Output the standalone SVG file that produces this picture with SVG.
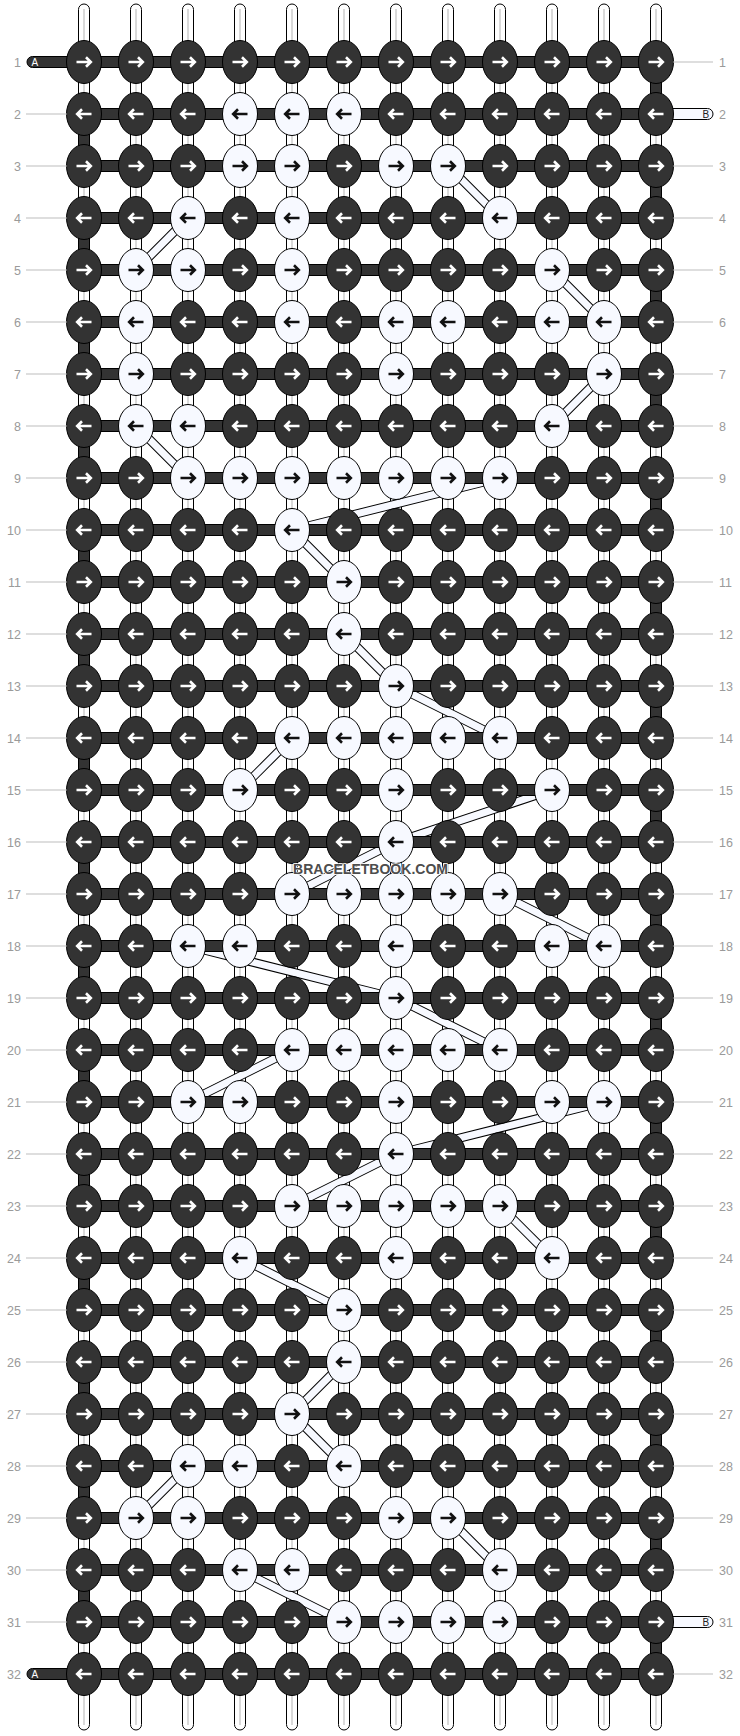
<svg xmlns="http://www.w3.org/2000/svg" xmlns:xlink="http://www.w3.org/1999/xlink" width="740" height="1736" viewBox="0 0 740 1736">
<style>
.th{fill:#fff;stroke:#000;stroke-width:1}
.tg{stroke:#cdcdcd;stroke-width:1.5}
.dk{fill:#333;stroke:#000;stroke-width:1}
.kd{fill:#333;stroke:#000;stroke-width:1}
.kw{fill:#f7f9ff;stroke:#000;stroke-width:1}
.aw{fill:none;stroke:#fff;stroke-width:2.6}
.ab{fill:none;stroke:#111;stroke-width:2.6}
.sb{stroke:#000;stroke-width:9;fill:none}
.sw{stroke:#f7f9ff;stroke-width:7;fill:none}
.lb{font-family:"Liberation Sans",Arial,sans-serif;font-size:12.5px;fill:#9a9a9a}
.ln{stroke:#bdbdbd;stroke-width:1}
.tl{font-family:"Liberation Sans",Arial,sans-serif;font-size:10px}
.wm{font-family:"Liberation Sans",Arial,sans-serif;font-size:15px;font-weight:bold;fill:#4d4d4d;stroke:#fff;stroke-width:1.5;paint-order:stroke}
</style>
<defs>
<g id="dR"><ellipse rx="17.5" ry="21.5" class="kd"/><path class="aw" d="M-7.5,0H6M2,-4.7L6.8,0L2,4.7"/></g>
<g id="dL"><ellipse rx="17.5" ry="21.5" class="kd"/><path class="aw" d="M7.5,0H-6M-2,-4.7L-6.8,0L-2,4.7"/></g>
<g id="wR"><ellipse rx="17.5" ry="21.5" class="kw"/><path class="ab" d="M-7.5,0H6M2,-4.7L6.8,0L2,4.7"/></g>
<g id="wL"><ellipse rx="17.5" ry="21.5" class="kw"/><path class="ab" d="M7.5,0H-6M-2,-4.7L-6.8,0L-2,4.7"/></g>
</defs>
<rect width="740" height="1736" fill="#fff"/>

<g id="threads">
<rect class="th" x="78.5" y="4" width="11" height="1726" rx="5.5"/><line class="tg" x1="84" y1="9" x2="84" y2="1725"/>
<rect class="th" x="130.5" y="4" width="11" height="1726" rx="5.5"/><line class="tg" x1="136" y1="9" x2="136" y2="1725"/>
<rect class="th" x="182.5" y="4" width="11" height="1726" rx="5.5"/><line class="tg" x1="188" y1="9" x2="188" y2="1725"/>
<rect class="th" x="234.5" y="4" width="11" height="1726" rx="5.5"/><line class="tg" x1="240" y1="9" x2="240" y2="1725"/>
<rect class="th" x="286.5" y="4" width="11" height="1726" rx="5.5"/><line class="tg" x1="292" y1="9" x2="292" y2="1725"/>
<rect class="th" x="338.5" y="4" width="11" height="1726" rx="5.5"/><line class="tg" x1="344" y1="9" x2="344" y2="1725"/>
<rect class="th" x="390.5" y="4" width="11" height="1726" rx="5.5"/><line class="tg" x1="396" y1="9" x2="396" y2="1725"/>
<rect class="th" x="442.5" y="4" width="11" height="1726" rx="5.5"/><line class="tg" x1="448" y1="9" x2="448" y2="1725"/>
<rect class="th" x="494.5" y="4" width="11" height="1726" rx="5.5"/><line class="tg" x1="500" y1="9" x2="500" y2="1725"/>
<rect class="th" x="546.5" y="4" width="11" height="1726" rx="5.5"/><line class="tg" x1="552" y1="9" x2="552" y2="1725"/>
<rect class="th" x="598.5" y="4" width="11" height="1726" rx="5.5"/><line class="tg" x1="604" y1="9" x2="604" y2="1725"/>
<rect class="th" x="650.5" y="4" width="11" height="1726" rx="5.5"/><line class="tg" x1="656" y1="9" x2="656" y2="1725"/>
</g>

<g id="connectors">
<g><line class="sb" x1="448" y1="166" x2="500" y2="218"/><line class="sw" x1="448" y1="166" x2="500" y2="218"/></g>
<g><line class="sb" x1="188" y1="218" x2="136" y2="270"/><line class="sw" x1="188" y1="218" x2="136" y2="270"/></g>
<g><line class="sb" x1="552" y1="270" x2="604" y2="322"/><line class="sw" x1="552" y1="270" x2="604" y2="322"/></g>
<g><line class="sb" x1="604" y1="374" x2="552" y2="426"/><line class="sw" x1="604" y1="374" x2="552" y2="426"/></g>
<g><line class="sb" x1="136" y1="426" x2="188" y2="478"/><line class="sw" x1="136" y1="426" x2="188" y2="478"/></g>
<g><line class="sb" x1="500" y1="478" x2="292" y2="530"/><line class="sw" x1="500" y1="478" x2="292" y2="530"/></g>
<g><line class="sb" x1="292" y1="530" x2="344" y2="582"/><line class="sw" x1="292" y1="530" x2="344" y2="582"/></g>
<g><line class="sb" x1="344" y1="634" x2="396" y2="686"/><line class="sw" x1="344" y1="634" x2="396" y2="686"/></g>
<g><line class="sb" x1="396" y1="686" x2="500" y2="738"/><line class="sw" x1="396" y1="686" x2="500" y2="738"/></g>
<g><line class="sb" x1="292" y1="738" x2="240" y2="790"/><line class="sw" x1="292" y1="738" x2="240" y2="790"/></g>
<g><line class="sb" x1="552" y1="790" x2="396" y2="842"/><line class="sw" x1="552" y1="790" x2="396" y2="842"/></g>
<g><line class="sb" x1="396" y1="842" x2="292" y2="894"/><line class="sw" x1="396" y1="842" x2="292" y2="894"/></g>
<g><line class="sb" x1="500" y1="894" x2="604" y2="946"/><line class="sw" x1="500" y1="894" x2="604" y2="946"/></g>
<g><line class="sb" x1="188" y1="946" x2="396" y2="998"/><line class="sw" x1="188" y1="946" x2="396" y2="998"/></g>
<g><line class="sb" x1="396" y1="998" x2="500" y2="1050"/><line class="sw" x1="396" y1="998" x2="500" y2="1050"/></g>
<g><line class="sb" x1="292" y1="1050" x2="188" y2="1102"/><line class="sw" x1="292" y1="1050" x2="188" y2="1102"/></g>
<g><line class="sb" x1="604" y1="1102" x2="396" y2="1154"/><line class="sw" x1="604" y1="1102" x2="396" y2="1154"/></g>
<g><line class="sb" x1="396" y1="1154" x2="292" y2="1206"/><line class="sw" x1="396" y1="1154" x2="292" y2="1206"/></g>
<g><line class="sb" x1="500" y1="1206" x2="552" y2="1258"/><line class="sw" x1="500" y1="1206" x2="552" y2="1258"/></g>
<g><line class="sb" x1="240" y1="1258" x2="344" y2="1310"/><line class="sw" x1="240" y1="1258" x2="344" y2="1310"/></g>
<g><line class="sb" x1="344" y1="1362" x2="292" y2="1414"/><line class="sw" x1="344" y1="1362" x2="292" y2="1414"/></g>
<g><line class="sb" x1="292" y1="1414" x2="344" y2="1466"/><line class="sw" x1="292" y1="1414" x2="344" y2="1466"/></g>
<g><line class="sb" x1="188" y1="1466" x2="136" y2="1518"/><line class="sw" x1="188" y1="1466" x2="136" y2="1518"/></g>
<g><line class="sb" x1="448" y1="1518" x2="500" y2="1570"/><line class="sw" x1="448" y1="1518" x2="500" y2="1570"/></g>
<g><line class="sb" x1="240" y1="1570" x2="344" y2="1622"/><line class="sw" x1="240" y1="1570" x2="344" y2="1622"/></g>
</g>

<g id="rows">
<rect class="dk" x="84" y="56.5" width="572" height="11"/>
<rect class="dk" x="84" y="108.5" width="572" height="11"/>
<rect class="dk" x="84" y="160.5" width="572" height="11"/>
<rect class="dk" x="84" y="212.5" width="572" height="11"/>
<rect class="dk" x="84" y="264.5" width="572" height="11"/>
<rect class="dk" x="84" y="316.5" width="572" height="11"/>
<rect class="dk" x="84" y="368.5" width="572" height="11"/>
<rect class="dk" x="84" y="420.5" width="572" height="11"/>
<rect class="dk" x="84" y="472.5" width="572" height="11"/>
<rect class="dk" x="84" y="524.5" width="572" height="11"/>
<rect class="dk" x="84" y="576.5" width="572" height="11"/>
<rect class="dk" x="84" y="628.5" width="572" height="11"/>
<rect class="dk" x="84" y="680.5" width="572" height="11"/>
<rect class="dk" x="84" y="732.5" width="572" height="11"/>
<rect class="dk" x="84" y="784.5" width="572" height="11"/>
<rect class="dk" x="84" y="836.5" width="572" height="11"/>
<rect class="dk" x="84" y="888.5" width="572" height="11"/>
<rect class="dk" x="84" y="940.5" width="572" height="11"/>
<rect class="dk" x="84" y="992.5" width="572" height="11"/>
<rect class="dk" x="84" y="1044.5" width="572" height="11"/>
<rect class="dk" x="84" y="1096.5" width="572" height="11"/>
<rect class="dk" x="84" y="1148.5" width="572" height="11"/>
<rect class="dk" x="84" y="1200.5" width="572" height="11"/>
<rect class="dk" x="84" y="1252.5" width="572" height="11"/>
<rect class="dk" x="84" y="1304.5" width="572" height="11"/>
<rect class="dk" x="84" y="1356.5" width="572" height="11"/>
<rect class="dk" x="84" y="1408.5" width="572" height="11"/>
<rect class="dk" x="84" y="1460.5" width="572" height="11"/>
<rect class="dk" x="84" y="1512.5" width="572" height="11"/>
<rect class="dk" x="84" y="1564.5" width="572" height="11"/>
<rect class="dk" x="84" y="1616.5" width="572" height="11"/>
<rect class="dk" x="84" y="1668.5" width="572" height="11"/>
</g>

<g id="turns">
<rect class="dk" x="650.5" y="72" width="11" height="32"/>
<rect class="dk" x="650.5" y="176" width="11" height="32"/>
<rect class="dk" x="650.5" y="280" width="11" height="32"/>
<rect class="dk" x="650.5" y="384" width="11" height="32"/>
<rect class="dk" x="650.5" y="488" width="11" height="32"/>
<rect class="dk" x="650.5" y="592" width="11" height="32"/>
<rect class="dk" x="650.5" y="696" width="11" height="32"/>
<rect class="dk" x="650.5" y="800" width="11" height="32"/>
<rect class="dk" x="650.5" y="904" width="11" height="32"/>
<rect class="dk" x="650.5" y="1008" width="11" height="32"/>
<rect class="dk" x="650.5" y="1112" width="11" height="32"/>
<rect class="dk" x="650.5" y="1216" width="11" height="32"/>
<rect class="dk" x="650.5" y="1320" width="11" height="32"/>
<rect class="dk" x="650.5" y="1424" width="11" height="32"/>
<rect class="dk" x="650.5" y="1528" width="11" height="32"/>
<rect class="dk" x="650.5" y="1632" width="11" height="32"/>
<rect class="dk" x="78.5" y="124" width="11" height="32"/>
<rect class="dk" x="78.5" y="228" width="11" height="32"/>
<rect class="dk" x="78.5" y="332" width="11" height="32"/>
<rect class="dk" x="78.5" y="436" width="11" height="32"/>
<rect class="dk" x="78.5" y="540" width="11" height="32"/>
<rect class="dk" x="78.5" y="644" width="11" height="32"/>
<rect class="dk" x="78.5" y="748" width="11" height="32"/>
<rect class="dk" x="78.5" y="852" width="11" height="32"/>
<rect class="dk" x="78.5" y="956" width="11" height="32"/>
<rect class="dk" x="78.5" y="1060" width="11" height="32"/>
<rect class="dk" x="78.5" y="1164" width="11" height="32"/>
<rect class="dk" x="78.5" y="1268" width="11" height="32"/>
<rect class="dk" x="78.5" y="1372" width="11" height="32"/>
<rect class="dk" x="78.5" y="1476" width="11" height="32"/>
<rect class="dk" x="78.5" y="1580" width="11" height="32"/>
</g>

<g id="ends">
<g id="endA1"><rect class="dk" x="27" y="56.5" width="70" height="11" rx="5.5"/><text class="tl" x="31.5" y="65.5" fill="#fff">A</text></g>
<g id="endA32"><rect class="dk" x="27" y="1668.5" width="70" height="11" rx="5.5"/><text class="tl" x="31.5" y="1677.5" fill="#fff">A</text></g>
<g id="endB2"><rect class="kw" x="640" y="108.5" width="73" height="11" rx="5.5"/><text class="tl" x="702.5" y="117.5" fill="#222">B</text></g>
<g id="endB31"><rect class="kw" x="640" y="1616.5" width="73" height="11" rx="5.5"/><text class="tl" x="702.5" y="1625.5" fill="#222">B</text></g>
</g>

<g id="knots">
<g id="row1" transform="translate(0,62)"><use id="k1-1" href="#dR" x="84"/><use id="k1-2" href="#dR" x="136"/><use id="k1-3" href="#dR" x="188"/><use id="k1-4" href="#dR" x="240"/><use id="k1-5" href="#dR" x="292"/><use id="k1-6" href="#dR" x="344"/><use id="k1-7" href="#dR" x="396"/><use id="k1-8" href="#dR" x="448"/><use id="k1-9" href="#dR" x="500"/><use id="k1-10" href="#dR" x="552"/><use id="k1-11" href="#dR" x="604"/><use id="k1-12" href="#dR" x="656"/></g>
<g id="row2" transform="translate(0,114)"><use id="k2-1" href="#dL" x="84"/><use id="k2-2" href="#dL" x="136"/><use id="k2-3" href="#dL" x="188"/><use id="k2-4" href="#wL" x="240"/><use id="k2-5" href="#wL" x="292"/><use id="k2-6" href="#wL" x="344"/><use id="k2-7" href="#dL" x="396"/><use id="k2-8" href="#dL" x="448"/><use id="k2-9" href="#dL" x="500"/><use id="k2-10" href="#dL" x="552"/><use id="k2-11" href="#dL" x="604"/><use id="k2-12" href="#dL" x="656"/></g>
<g id="row3" transform="translate(0,166)"><use id="k3-1" href="#dR" x="84"/><use id="k3-2" href="#dR" x="136"/><use id="k3-3" href="#dR" x="188"/><use id="k3-4" href="#wR" x="240"/><use id="k3-5" href="#wR" x="292"/><use id="k3-6" href="#dR" x="344"/><use id="k3-7" href="#wR" x="396"/><use id="k3-8" href="#wR" x="448"/><use id="k3-9" href="#dR" x="500"/><use id="k3-10" href="#dR" x="552"/><use id="k3-11" href="#dR" x="604"/><use id="k3-12" href="#dR" x="656"/></g>
<g id="row4" transform="translate(0,218)"><use id="k4-1" href="#dL" x="84"/><use id="k4-2" href="#dL" x="136"/><use id="k4-3" href="#wL" x="188"/><use id="k4-4" href="#dL" x="240"/><use id="k4-5" href="#wL" x="292"/><use id="k4-6" href="#dL" x="344"/><use id="k4-7" href="#dL" x="396"/><use id="k4-8" href="#dL" x="448"/><use id="k4-9" href="#wL" x="500"/><use id="k4-10" href="#dL" x="552"/><use id="k4-11" href="#dL" x="604"/><use id="k4-12" href="#dL" x="656"/></g>
<g id="row5" transform="translate(0,270)"><use id="k5-1" href="#dR" x="84"/><use id="k5-2" href="#wR" x="136"/><use id="k5-3" href="#wR" x="188"/><use id="k5-4" href="#dR" x="240"/><use id="k5-5" href="#wR" x="292"/><use id="k5-6" href="#dR" x="344"/><use id="k5-7" href="#dR" x="396"/><use id="k5-8" href="#dR" x="448"/><use id="k5-9" href="#dR" x="500"/><use id="k5-10" href="#wR" x="552"/><use id="k5-11" href="#dR" x="604"/><use id="k5-12" href="#dR" x="656"/></g>
<g id="row6" transform="translate(0,322)"><use id="k6-1" href="#dL" x="84"/><use id="k6-2" href="#wL" x="136"/><use id="k6-3" href="#dL" x="188"/><use id="k6-4" href="#dL" x="240"/><use id="k6-5" href="#wL" x="292"/><use id="k6-6" href="#dL" x="344"/><use id="k6-7" href="#wL" x="396"/><use id="k6-8" href="#wL" x="448"/><use id="k6-9" href="#dL" x="500"/><use id="k6-10" href="#wL" x="552"/><use id="k6-11" href="#wL" x="604"/><use id="k6-12" href="#dL" x="656"/></g>
<g id="row7" transform="translate(0,374)"><use id="k7-1" href="#dR" x="84"/><use id="k7-2" href="#wR" x="136"/><use id="k7-3" href="#dR" x="188"/><use id="k7-4" href="#dR" x="240"/><use id="k7-5" href="#dR" x="292"/><use id="k7-6" href="#dR" x="344"/><use id="k7-7" href="#wR" x="396"/><use id="k7-8" href="#dR" x="448"/><use id="k7-9" href="#dR" x="500"/><use id="k7-10" href="#dR" x="552"/><use id="k7-11" href="#wR" x="604"/><use id="k7-12" href="#dR" x="656"/></g>
<g id="row8" transform="translate(0,426)"><use id="k8-1" href="#dL" x="84"/><use id="k8-2" href="#wL" x="136"/><use id="k8-3" href="#wL" x="188"/><use id="k8-4" href="#dL" x="240"/><use id="k8-5" href="#dL" x="292"/><use id="k8-6" href="#dL" x="344"/><use id="k8-7" href="#dL" x="396"/><use id="k8-8" href="#dL" x="448"/><use id="k8-9" href="#dL" x="500"/><use id="k8-10" href="#wL" x="552"/><use id="k8-11" href="#dL" x="604"/><use id="k8-12" href="#dL" x="656"/></g>
<g id="row9" transform="translate(0,478)"><use id="k9-1" href="#dR" x="84"/><use id="k9-2" href="#dR" x="136"/><use id="k9-3" href="#wR" x="188"/><use id="k9-4" href="#wR" x="240"/><use id="k9-5" href="#wR" x="292"/><use id="k9-6" href="#wR" x="344"/><use id="k9-7" href="#wR" x="396"/><use id="k9-8" href="#wR" x="448"/><use id="k9-9" href="#wR" x="500"/><use id="k9-10" href="#dR" x="552"/><use id="k9-11" href="#dR" x="604"/><use id="k9-12" href="#dR" x="656"/></g>
<g id="row10" transform="translate(0,530)"><use id="k10-1" href="#dL" x="84"/><use id="k10-2" href="#dL" x="136"/><use id="k10-3" href="#dL" x="188"/><use id="k10-4" href="#dL" x="240"/><use id="k10-5" href="#wL" x="292"/><use id="k10-6" href="#dL" x="344"/><use id="k10-7" href="#dL" x="396"/><use id="k10-8" href="#dL" x="448"/><use id="k10-9" href="#dL" x="500"/><use id="k10-10" href="#dL" x="552"/><use id="k10-11" href="#dL" x="604"/><use id="k10-12" href="#dL" x="656"/></g>
<g id="row11" transform="translate(0,582)"><use id="k11-1" href="#dR" x="84"/><use id="k11-2" href="#dR" x="136"/><use id="k11-3" href="#dR" x="188"/><use id="k11-4" href="#dR" x="240"/><use id="k11-5" href="#dR" x="292"/><use id="k11-6" href="#wR" x="344"/><use id="k11-7" href="#dR" x="396"/><use id="k11-8" href="#dR" x="448"/><use id="k11-9" href="#dR" x="500"/><use id="k11-10" href="#dR" x="552"/><use id="k11-11" href="#dR" x="604"/><use id="k11-12" href="#dR" x="656"/></g>
<g id="row12" transform="translate(0,634)"><use id="k12-1" href="#dL" x="84"/><use id="k12-2" href="#dL" x="136"/><use id="k12-3" href="#dL" x="188"/><use id="k12-4" href="#dL" x="240"/><use id="k12-5" href="#dL" x="292"/><use id="k12-6" href="#wL" x="344"/><use id="k12-7" href="#dL" x="396"/><use id="k12-8" href="#dL" x="448"/><use id="k12-9" href="#dL" x="500"/><use id="k12-10" href="#dL" x="552"/><use id="k12-11" href="#dL" x="604"/><use id="k12-12" href="#dL" x="656"/></g>
<g id="row13" transform="translate(0,686)"><use id="k13-1" href="#dR" x="84"/><use id="k13-2" href="#dR" x="136"/><use id="k13-3" href="#dR" x="188"/><use id="k13-4" href="#dR" x="240"/><use id="k13-5" href="#dR" x="292"/><use id="k13-6" href="#dR" x="344"/><use id="k13-7" href="#wR" x="396"/><use id="k13-8" href="#dR" x="448"/><use id="k13-9" href="#dR" x="500"/><use id="k13-10" href="#dR" x="552"/><use id="k13-11" href="#dR" x="604"/><use id="k13-12" href="#dR" x="656"/></g>
<g id="row14" transform="translate(0,738)"><use id="k14-1" href="#dL" x="84"/><use id="k14-2" href="#dL" x="136"/><use id="k14-3" href="#dL" x="188"/><use id="k14-4" href="#dL" x="240"/><use id="k14-5" href="#wL" x="292"/><use id="k14-6" href="#wL" x="344"/><use id="k14-7" href="#wL" x="396"/><use id="k14-8" href="#wL" x="448"/><use id="k14-9" href="#wL" x="500"/><use id="k14-10" href="#dL" x="552"/><use id="k14-11" href="#dL" x="604"/><use id="k14-12" href="#dL" x="656"/></g>
<g id="row15" transform="translate(0,790)"><use id="k15-1" href="#dR" x="84"/><use id="k15-2" href="#dR" x="136"/><use id="k15-3" href="#dR" x="188"/><use id="k15-4" href="#wR" x="240"/><use id="k15-5" href="#dR" x="292"/><use id="k15-6" href="#dR" x="344"/><use id="k15-7" href="#wR" x="396"/><use id="k15-8" href="#dR" x="448"/><use id="k15-9" href="#dR" x="500"/><use id="k15-10" href="#wR" x="552"/><use id="k15-11" href="#dR" x="604"/><use id="k15-12" href="#dR" x="656"/></g>
<g id="row16" transform="translate(0,842)"><use id="k16-1" href="#dL" x="84"/><use id="k16-2" href="#dL" x="136"/><use id="k16-3" href="#dL" x="188"/><use id="k16-4" href="#dL" x="240"/><use id="k16-5" href="#dL" x="292"/><use id="k16-6" href="#dL" x="344"/><use id="k16-7" href="#wL" x="396"/><use id="k16-8" href="#dL" x="448"/><use id="k16-9" href="#dL" x="500"/><use id="k16-10" href="#dL" x="552"/><use id="k16-11" href="#dL" x="604"/><use id="k16-12" href="#dL" x="656"/></g>
<g id="row17" transform="translate(0,894)"><use id="k17-1" href="#dR" x="84"/><use id="k17-2" href="#dR" x="136"/><use id="k17-3" href="#dR" x="188"/><use id="k17-4" href="#dR" x="240"/><use id="k17-5" href="#wR" x="292"/><use id="k17-6" href="#wR" x="344"/><use id="k17-7" href="#wR" x="396"/><use id="k17-8" href="#wR" x="448"/><use id="k17-9" href="#wR" x="500"/><use id="k17-10" href="#dR" x="552"/><use id="k17-11" href="#dR" x="604"/><use id="k17-12" href="#dR" x="656"/></g>
<g id="row18" transform="translate(0,946)"><use id="k18-1" href="#dL" x="84"/><use id="k18-2" href="#dL" x="136"/><use id="k18-3" href="#wL" x="188"/><use id="k18-4" href="#wL" x="240"/><use id="k18-5" href="#dL" x="292"/><use id="k18-6" href="#dL" x="344"/><use id="k18-7" href="#wL" x="396"/><use id="k18-8" href="#dL" x="448"/><use id="k18-9" href="#dL" x="500"/><use id="k18-10" href="#wL" x="552"/><use id="k18-11" href="#wL" x="604"/><use id="k18-12" href="#dL" x="656"/></g>
<g id="row19" transform="translate(0,998)"><use id="k19-1" href="#dR" x="84"/><use id="k19-2" href="#dR" x="136"/><use id="k19-3" href="#dR" x="188"/><use id="k19-4" href="#dR" x="240"/><use id="k19-5" href="#dR" x="292"/><use id="k19-6" href="#dR" x="344"/><use id="k19-7" href="#wR" x="396"/><use id="k19-8" href="#dR" x="448"/><use id="k19-9" href="#dR" x="500"/><use id="k19-10" href="#dR" x="552"/><use id="k19-11" href="#dR" x="604"/><use id="k19-12" href="#dR" x="656"/></g>
<g id="row20" transform="translate(0,1050)"><use id="k20-1" href="#dL" x="84"/><use id="k20-2" href="#dL" x="136"/><use id="k20-3" href="#dL" x="188"/><use id="k20-4" href="#dL" x="240"/><use id="k20-5" href="#wL" x="292"/><use id="k20-6" href="#wL" x="344"/><use id="k20-7" href="#wL" x="396"/><use id="k20-8" href="#wL" x="448"/><use id="k20-9" href="#wL" x="500"/><use id="k20-10" href="#dL" x="552"/><use id="k20-11" href="#dL" x="604"/><use id="k20-12" href="#dL" x="656"/></g>
<g id="row21" transform="translate(0,1102)"><use id="k21-1" href="#dR" x="84"/><use id="k21-2" href="#dR" x="136"/><use id="k21-3" href="#wR" x="188"/><use id="k21-4" href="#wR" x="240"/><use id="k21-5" href="#dR" x="292"/><use id="k21-6" href="#dR" x="344"/><use id="k21-7" href="#wR" x="396"/><use id="k21-8" href="#dR" x="448"/><use id="k21-9" href="#dR" x="500"/><use id="k21-10" href="#wR" x="552"/><use id="k21-11" href="#wR" x="604"/><use id="k21-12" href="#dR" x="656"/></g>
<g id="row22" transform="translate(0,1154)"><use id="k22-1" href="#dL" x="84"/><use id="k22-2" href="#dL" x="136"/><use id="k22-3" href="#dL" x="188"/><use id="k22-4" href="#dL" x="240"/><use id="k22-5" href="#dL" x="292"/><use id="k22-6" href="#dL" x="344"/><use id="k22-7" href="#wL" x="396"/><use id="k22-8" href="#dL" x="448"/><use id="k22-9" href="#dL" x="500"/><use id="k22-10" href="#dL" x="552"/><use id="k22-11" href="#dL" x="604"/><use id="k22-12" href="#dL" x="656"/></g>
<g id="row23" transform="translate(0,1206)"><use id="k23-1" href="#dR" x="84"/><use id="k23-2" href="#dR" x="136"/><use id="k23-3" href="#dR" x="188"/><use id="k23-4" href="#dR" x="240"/><use id="k23-5" href="#wR" x="292"/><use id="k23-6" href="#wR" x="344"/><use id="k23-7" href="#wR" x="396"/><use id="k23-8" href="#wR" x="448"/><use id="k23-9" href="#wR" x="500"/><use id="k23-10" href="#dR" x="552"/><use id="k23-11" href="#dR" x="604"/><use id="k23-12" href="#dR" x="656"/></g>
<g id="row24" transform="translate(0,1258)"><use id="k24-1" href="#dL" x="84"/><use id="k24-2" href="#dL" x="136"/><use id="k24-3" href="#dL" x="188"/><use id="k24-4" href="#wL" x="240"/><use id="k24-5" href="#dL" x="292"/><use id="k24-6" href="#dL" x="344"/><use id="k24-7" href="#wL" x="396"/><use id="k24-8" href="#dL" x="448"/><use id="k24-9" href="#dL" x="500"/><use id="k24-10" href="#wL" x="552"/><use id="k24-11" href="#dL" x="604"/><use id="k24-12" href="#dL" x="656"/></g>
<g id="row25" transform="translate(0,1310)"><use id="k25-1" href="#dR" x="84"/><use id="k25-2" href="#dR" x="136"/><use id="k25-3" href="#dR" x="188"/><use id="k25-4" href="#dR" x="240"/><use id="k25-5" href="#dR" x="292"/><use id="k25-6" href="#wR" x="344"/><use id="k25-7" href="#dR" x="396"/><use id="k25-8" href="#dR" x="448"/><use id="k25-9" href="#dR" x="500"/><use id="k25-10" href="#dR" x="552"/><use id="k25-11" href="#dR" x="604"/><use id="k25-12" href="#dR" x="656"/></g>
<g id="row26" transform="translate(0,1362)"><use id="k26-1" href="#dL" x="84"/><use id="k26-2" href="#dL" x="136"/><use id="k26-3" href="#dL" x="188"/><use id="k26-4" href="#dL" x="240"/><use id="k26-5" href="#dL" x="292"/><use id="k26-6" href="#wL" x="344"/><use id="k26-7" href="#dL" x="396"/><use id="k26-8" href="#dL" x="448"/><use id="k26-9" href="#dL" x="500"/><use id="k26-10" href="#dL" x="552"/><use id="k26-11" href="#dL" x="604"/><use id="k26-12" href="#dL" x="656"/></g>
<g id="row27" transform="translate(0,1414)"><use id="k27-1" href="#dR" x="84"/><use id="k27-2" href="#dR" x="136"/><use id="k27-3" href="#dR" x="188"/><use id="k27-4" href="#dR" x="240"/><use id="k27-5" href="#wR" x="292"/><use id="k27-6" href="#dR" x="344"/><use id="k27-7" href="#dR" x="396"/><use id="k27-8" href="#dR" x="448"/><use id="k27-9" href="#dR" x="500"/><use id="k27-10" href="#dR" x="552"/><use id="k27-11" href="#dR" x="604"/><use id="k27-12" href="#dR" x="656"/></g>
<g id="row28" transform="translate(0,1466)"><use id="k28-1" href="#dL" x="84"/><use id="k28-2" href="#dL" x="136"/><use id="k28-3" href="#wL" x="188"/><use id="k28-4" href="#wL" x="240"/><use id="k28-5" href="#dL" x="292"/><use id="k28-6" href="#wL" x="344"/><use id="k28-7" href="#dL" x="396"/><use id="k28-8" href="#dL" x="448"/><use id="k28-9" href="#dL" x="500"/><use id="k28-10" href="#dL" x="552"/><use id="k28-11" href="#dL" x="604"/><use id="k28-12" href="#dL" x="656"/></g>
<g id="row29" transform="translate(0,1518)"><use id="k29-1" href="#dR" x="84"/><use id="k29-2" href="#wR" x="136"/><use id="k29-3" href="#wR" x="188"/><use id="k29-4" href="#dR" x="240"/><use id="k29-5" href="#dR" x="292"/><use id="k29-6" href="#dR" x="344"/><use id="k29-7" href="#wR" x="396"/><use id="k29-8" href="#wR" x="448"/><use id="k29-9" href="#dR" x="500"/><use id="k29-10" href="#dR" x="552"/><use id="k29-11" href="#dR" x="604"/><use id="k29-12" href="#dR" x="656"/></g>
<g id="row30" transform="translate(0,1570)"><use id="k30-1" href="#dL" x="84"/><use id="k30-2" href="#dL" x="136"/><use id="k30-3" href="#dL" x="188"/><use id="k30-4" href="#wL" x="240"/><use id="k30-5" href="#wL" x="292"/><use id="k30-6" href="#dL" x="344"/><use id="k30-7" href="#dL" x="396"/><use id="k30-8" href="#dL" x="448"/><use id="k30-9" href="#wL" x="500"/><use id="k30-10" href="#dL" x="552"/><use id="k30-11" href="#dL" x="604"/><use id="k30-12" href="#dL" x="656"/></g>
<g id="row31" transform="translate(0,1622)"><use id="k31-1" href="#dR" x="84"/><use id="k31-2" href="#dR" x="136"/><use id="k31-3" href="#dR" x="188"/><use id="k31-4" href="#dR" x="240"/><use id="k31-5" href="#dR" x="292"/><use id="k31-6" href="#wR" x="344"/><use id="k31-7" href="#wR" x="396"/><use id="k31-8" href="#wR" x="448"/><use id="k31-9" href="#wR" x="500"/><use id="k31-10" href="#dR" x="552"/><use id="k31-11" href="#dR" x="604"/><use id="k31-12" href="#dR" x="656"/></g>
<g id="row32" transform="translate(0,1674)"><use id="k32-1" href="#dL" x="84"/><use id="k32-2" href="#dL" x="136"/><use id="k32-3" href="#dL" x="188"/><use id="k32-4" href="#dL" x="240"/><use id="k32-5" href="#dL" x="292"/><use id="k32-6" href="#dL" x="344"/><use id="k32-7" href="#dL" x="396"/><use id="k32-8" href="#dL" x="448"/><use id="k32-9" href="#dL" x="500"/><use id="k32-10" href="#dL" x="552"/><use id="k32-11" href="#dL" x="604"/><use id="k32-12" href="#dL" x="656"/></g>
</g>

<text id="watermark" class="wm" x="370.5" y="873.5" text-anchor="middle" textLength="155" lengthAdjust="spacingAndGlyphs">BRACELETBOOK.COM</text>

<g id="label-lines" class="ln">
<line x1="673" y1="62" x2="713" y2="62"/>
<line x1="26" y1="114" x2="67" y2="114"/>
<line x1="26" y1="166" x2="67" y2="166"/><line x1="673" y1="166" x2="713" y2="166"/>
<line x1="26" y1="218" x2="67" y2="218"/><line x1="673" y1="218" x2="713" y2="218"/>
<line x1="26" y1="270" x2="67" y2="270"/><line x1="673" y1="270" x2="713" y2="270"/>
<line x1="26" y1="322" x2="67" y2="322"/><line x1="673" y1="322" x2="713" y2="322"/>
<line x1="26" y1="374" x2="67" y2="374"/><line x1="673" y1="374" x2="713" y2="374"/>
<line x1="26" y1="426" x2="67" y2="426"/><line x1="673" y1="426" x2="713" y2="426"/>
<line x1="26" y1="478" x2="67" y2="478"/><line x1="673" y1="478" x2="713" y2="478"/>
<line x1="26" y1="530" x2="67" y2="530"/><line x1="673" y1="530" x2="713" y2="530"/>
<line x1="26" y1="582" x2="67" y2="582"/><line x1="673" y1="582" x2="713" y2="582"/>
<line x1="26" y1="634" x2="67" y2="634"/><line x1="673" y1="634" x2="713" y2="634"/>
<line x1="26" y1="686" x2="67" y2="686"/><line x1="673" y1="686" x2="713" y2="686"/>
<line x1="26" y1="738" x2="67" y2="738"/><line x1="673" y1="738" x2="713" y2="738"/>
<line x1="26" y1="790" x2="67" y2="790"/><line x1="673" y1="790" x2="713" y2="790"/>
<line x1="26" y1="842" x2="67" y2="842"/><line x1="673" y1="842" x2="713" y2="842"/>
<line x1="26" y1="894" x2="67" y2="894"/><line x1="673" y1="894" x2="713" y2="894"/>
<line x1="26" y1="946" x2="67" y2="946"/><line x1="673" y1="946" x2="713" y2="946"/>
<line x1="26" y1="998" x2="67" y2="998"/><line x1="673" y1="998" x2="713" y2="998"/>
<line x1="26" y1="1050" x2="67" y2="1050"/><line x1="673" y1="1050" x2="713" y2="1050"/>
<line x1="26" y1="1102" x2="67" y2="1102"/><line x1="673" y1="1102" x2="713" y2="1102"/>
<line x1="26" y1="1154" x2="67" y2="1154"/><line x1="673" y1="1154" x2="713" y2="1154"/>
<line x1="26" y1="1206" x2="67" y2="1206"/><line x1="673" y1="1206" x2="713" y2="1206"/>
<line x1="26" y1="1258" x2="67" y2="1258"/><line x1="673" y1="1258" x2="713" y2="1258"/>
<line x1="26" y1="1310" x2="67" y2="1310"/><line x1="673" y1="1310" x2="713" y2="1310"/>
<line x1="26" y1="1362" x2="67" y2="1362"/><line x1="673" y1="1362" x2="713" y2="1362"/>
<line x1="26" y1="1414" x2="67" y2="1414"/><line x1="673" y1="1414" x2="713" y2="1414"/>
<line x1="26" y1="1466" x2="67" y2="1466"/><line x1="673" y1="1466" x2="713" y2="1466"/>
<line x1="26" y1="1518" x2="67" y2="1518"/><line x1="673" y1="1518" x2="713" y2="1518"/>
<line x1="26" y1="1570" x2="67" y2="1570"/><line x1="673" y1="1570" x2="713" y2="1570"/>
<line x1="26" y1="1622" x2="67" y2="1622"/>
<line x1="673" y1="1674" x2="713" y2="1674"/>
</g>

<g id="labels-left" class="lb" text-anchor="end">
<text x="21" y="66.5">1</text><text x="21" y="118.5">2</text><text x="21" y="170.5">3</text><text x="21" y="222.5">4</text><text x="21" y="274.5">5</text><text x="21" y="326.5">6</text><text x="21" y="378.5">7</text><text x="21" y="430.5">8</text><text x="21" y="482.5">9</text><text x="21" y="534.5">10</text><text x="21" y="586.5">11</text><text x="21" y="638.5">12</text><text x="21" y="690.5">13</text><text x="21" y="742.5">14</text><text x="21" y="794.5">15</text><text x="21" y="846.5">16</text><text x="21" y="898.5">17</text><text x="21" y="950.5">18</text><text x="21" y="1002.5">19</text><text x="21" y="1054.5">20</text><text x="21" y="1106.5">21</text><text x="21" y="1158.5">22</text><text x="21" y="1210.5">23</text><text x="21" y="1262.5">24</text><text x="21" y="1314.5">25</text><text x="21" y="1366.5">26</text><text x="21" y="1418.5">27</text><text x="21" y="1470.5">28</text><text x="21" y="1522.5">29</text><text x="21" y="1574.5">30</text><text x="21" y="1626.5">31</text><text x="21" y="1678.5">32</text>
</g>
<g id="labels-right" class="lb">
<text x="719" y="66.5">1</text><text x="719" y="118.5">2</text><text x="719" y="170.5">3</text><text x="719" y="222.5">4</text><text x="719" y="274.5">5</text><text x="719" y="326.5">6</text><text x="719" y="378.5">7</text><text x="719" y="430.5">8</text><text x="719" y="482.5">9</text><text x="719" y="534.5">10</text><text x="719" y="586.5">11</text><text x="719" y="638.5">12</text><text x="719" y="690.5">13</text><text x="719" y="742.5">14</text><text x="719" y="794.5">15</text><text x="719" y="846.5">16</text><text x="719" y="898.5">17</text><text x="719" y="950.5">18</text><text x="719" y="1002.5">19</text><text x="719" y="1054.5">20</text><text x="719" y="1106.5">21</text><text x="719" y="1158.5">22</text><text x="719" y="1210.5">23</text><text x="719" y="1262.5">24</text><text x="719" y="1314.5">25</text><text x="719" y="1366.5">26</text><text x="719" y="1418.5">27</text><text x="719" y="1470.5">28</text><text x="719" y="1522.5">29</text><text x="719" y="1574.5">30</text><text x="719" y="1626.5">31</text><text x="719" y="1678.5">32</text>
</g>
</svg>
